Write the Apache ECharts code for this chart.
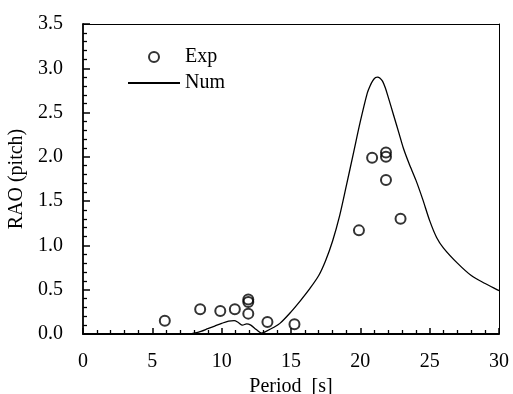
<!DOCTYPE html>
<html>
<head>
<meta charset="utf-8">
<script src="https://cdn.jsdelivr.net/npm/echarts@6/dist/echarts.min.js"></script>
<style>
  html, body { margin: 0; padding: 0; background: #fff; }
  #chart { width: 513px; height: 394px; }
</style>
</head>
<body>
<div id="chart"></div>
<script>
// Measured pitch RAO (period in s, amplitude)
const expPeriod = [5.9, 8.45, 9.9, 10.95, 11.92, 11.92, 11.92, 13.3, 15.25, 19.9, 20.85, 21.85, 21.85, 21.85, 22.9];
const expRao    = [0.15, 0.28, 0.26, 0.28, 0.39, 0.36, 0.23, 0.135, 0.11, 1.17, 1.99, 2.05, 2.00, 1.74, 1.30];

// Computed pitch RAO curve
const numPeriod = [7.6, 8.0, 8.5, 9.0, 9.5, 10.0, 10.5, 10.9, 11.2, 11.5, 11.8, 12.1, 12.5, 12.9, 13.2, 13.7, 14.2, 15.0, 15.7, 16.3, 17.0, 17.5, 18.0, 18.5, 19.0, 19.5, 20.0, 20.5, 20.7, 20.9, 21.1, 21.25, 21.4, 21.6, 21.8, 22.0, 22.4, 22.8, 23.1, 23.5, 24.0, 24.5, 25.0, 25.5, 26.0, 27.0, 28.0, 29.0, 30.0];
const numRao    = [0.0, 0.01, 0.03, 0.06, 0.09, 0.12, 0.145, 0.15, 0.13, 0.10, 0.115, 0.10, 0.05, 0.01, 0.03, 0.07, 0.12, 0.25, 0.38, 0.50, 0.66, 0.83, 1.05, 1.33, 1.68, 2.04, 2.40, 2.72, 2.80, 2.86, 2.895, 2.90, 2.89, 2.855, 2.78, 2.68, 2.47, 2.26, 2.10, 1.93, 1.74, 1.52, 1.28, 1.09, 0.97, 0.80, 0.66, 0.57, 0.49];

const xTicks = [0, 5, 10, 15, 20, 25, 30];
const yTicks = [0.0, 0.5, 1.0, 1.5, 2.0, 2.5, 3.0, 3.5];

const FONT = '"Liberation Serif", "DejaVu Serif", serif';
const INK = '#000';

const chart = echarts.init(document.getElementById('chart'));

const xMin = xTicks[0], xMax = xTicks[xTicks.length - 1];
const yMin = yTicks[0], yMax = yTicks[yTicks.length - 1];

chart.setOption({
  animation: false,
  backgroundColor: '#fff',
  textStyle: { fontFamily: FONT, color: INK },
  grid: { left: 83, right: 14, top: 24, bottom: 60, show: false, outerBoundsMode: 'none', containLabel: false },
  legend: {
    orient: 'vertical',
    left: 122, top: 42,
    itemWidth: 52, itemHeight: 10, itemGap: 6,
    textStyle: { fontFamily: FONT, fontSize: 20, color: INK },
    data: ['Exp', { name: 'Num', itemStyle: { opacity: 0 } }]
  },
  xAxis: [
    {
      type: 'value', position: 'bottom',
      min: xMin, max: xMax, interval: 5,
      name: 'Period  [s]',
      nameLocation: 'middle', nameGap: 41,
      nameTextStyle: { fontFamily: FONT, fontSize: 20, color: INK },
      axisLine: { show: true, onZero: false, lineStyle: { color: INK, width: 1.8 } },
      axisTick: { show: true, inside: true, length: 6, lineStyle: { color: INK, width: 1.5 } },
      minorTick: { show: true, splitNumber: 5, length: 4, lineStyle: { color: INK, width: 1.3 } },
      splitLine: { show: false },
      axisLabel: { show: true, margin: 18, fontFamily: FONT, fontSize: 20, color: INK }
    },
    {
      // top edge of the frame
      type: 'value', position: 'top',
      min: xMin, max: xMax, interval: 5,
      axisLine: { show: true, onZero: false, lineStyle: { color: INK, width: 1 } },
      axisTick: { show: false }, minorTick: { show: false },
      axisLabel: { show: false }, splitLine: { show: false }
    }
  ],
  yAxis: [
    {
      type: 'value', position: 'left',
      min: yMin, max: yMax, interval: 0.5,
      name: 'RAO (pitch)',
      nameLocation: 'middle', nameGap: 48, nameRotate: 90,
      nameTextStyle: { fontFamily: FONT, fontSize: 20, color: INK },
      axisLine: { show: true, onZero: false, lineStyle: { color: INK, width: 1.8 } },
      axisTick: { show: true, inside: true, length: 7, lineStyle: { color: INK, width: 1.5 } },
      minorTick: { show: true, splitNumber: 5, length: 4, lineStyle: { color: INK, width: 1.3 } },
      splitLine: { show: false },
      axisLabel: {
        show: true, margin: 20, fontFamily: FONT, fontSize: 20, color: INK,
        formatter: v => v.toFixed(1)
      }
    },
    {
      // right edge of the frame
      type: 'value', position: 'right',
      min: yMin, max: yMax, interval: 0.5,
      axisLine: { show: true, onZero: false, lineStyle: { color: INK, width: 1 } },
      axisTick: { show: false }, minorTick: { show: false },
      axisLabel: { show: false }, splitLine: { show: false }
    }
  ],
  series: [
    {
      name: 'Exp',
      type: 'scatter',
      symbol: 'circle',
      symbolSize: 10,
      itemStyle: { color: 'transparent', borderColor: INK, borderWidth: 2 },
      data: expPeriod.map((p, i) => [p, expRao[i]]),
      z: 3
    },
    {
      name: 'Num',
      type: 'line',
      smooth: 0.3,
      showSymbol: false,
      symbol: 'none',
      lineStyle: { color: INK, width: 1.3 },
      itemStyle: { color: INK },
      data: numPeriod.map((p, i) => [p, numRao[i]]),
      z: 2
    }
  ]
});
</script>
</body>
</html>
